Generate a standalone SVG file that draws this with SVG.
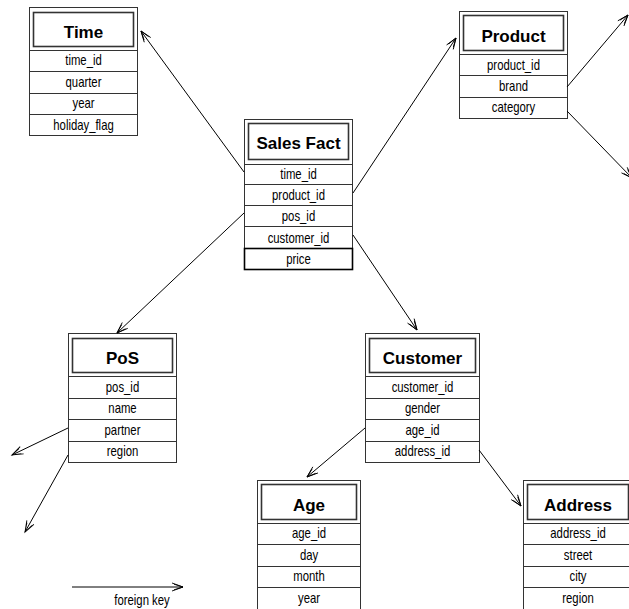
<svg xmlns="http://www.w3.org/2000/svg" width="629" height="609" viewBox="0 0 629 609">
  <style>
    .box { fill: #fff; stroke: #333; stroke-width: 1; }
    .ttl { fill: none; stroke: #333; stroke-width: 1.6; }
    .sep { stroke: #333; stroke-width: 1; }
    .key { fill: none; stroke: #000; stroke-width: 1.6; }
    .title { font-family: "Liberation Sans", Arial, sans-serif; font-size: 17px; font-weight: bold; text-anchor: middle; fill: #000; }
    .attr { font-family: "Liberation Sans", Arial, sans-serif; font-size: 14px; text-anchor: middle; fill: #000; }
    .fk { stroke: #000; stroke-width: 1; fill: none; marker-end: url(#arrow); }
  </style>
  <defs>
    <marker id="arrow" markerUnits="userSpaceOnUse" markerWidth="14" markerHeight="10" refX="12" refY="5" orient="auto">
      <path d="M1,1 L12,5 L1,9 M3,2.2 L12,5 L3,7.8" fill="none" stroke="#000" stroke-width="0.9"/>
    </marker>
  </defs>
  <rect width="629" height="609" fill="#fff"/>

  <!-- Time dimension -->
  <g id="time">
    <rect class="box" x="29.5" y="7.5" width="108" height="128"/>
    <rect class="ttl" x="33.5" y="12.5" width="100" height="34"/>
    <text class="title" x="83.5" y="38">Time</text>
    <path class="sep" d="M29.5,50.5 H137.5 M29.5,71.5 H137.5 M29.5,93.5 H137.5 M29.5,114.5 H137.5"/>
    <text class="attr" transform="translate(83.5,65) scale(0.81,1)">time_id</text>
    <text class="attr" transform="translate(83.5,86.5) scale(0.81,1)">quarter</text>
    <text class="attr" transform="translate(83.5,108) scale(0.81,1)">year</text>
    <text class="attr" transform="translate(83.5,129.5) scale(0.81,1)">holiday_flag</text>
  </g>

  <!-- Sales Fact table -->
  <g id="sales-fact">
    <rect class="box" x="244.5" y="119.5" width="108" height="150"/>
    <rect class="ttl" x="248.5" y="123.5" width="100" height="36"/>
    <text class="title" x="298.5" y="149">Sales Fact</text>
    <path class="sep" d="M244.5,164.5 H352.5 M244.5,184.5 H352.5 M244.5,205.5 H352.5 M244.5,226.5 H352.5"/>
    <text class="attr" transform="translate(298.5,179) scale(0.81,1)">time_id</text>
    <text class="attr" transform="translate(298.5,200) scale(0.81,1)">product_id</text>
    <text class="attr" transform="translate(298.5,221) scale(0.81,1)">pos_id</text>
    <text class="attr" transform="translate(298.5,242.5) scale(0.81,1)">customer_id</text>
    <rect class="key" x="244.5" y="248.5" width="108" height="21"/>
    <text class="attr" transform="translate(298.5,264) scale(0.81,1)">price</text>
  </g>

  <!-- Product dimension -->
  <g id="product">
    <rect class="box" x="459.5" y="11.5" width="108" height="107"/>
    <rect class="ttl" x="463.5" y="15.5" width="100" height="35"/>
    <text class="title" x="513.5" y="42">Product</text>
    <path class="sep" d="M459.5,54.5 H567.5 M459.5,75.5 H567.5 M459.5,97.5 H567.5"/>
    <text class="attr" transform="translate(513.5,69.5) scale(0.81,1)">product_id</text>
    <text class="attr" transform="translate(513.5,90.5) scale(0.81,1)">brand</text>
    <text class="attr" transform="translate(513.5,112) scale(0.81,1)">category</text>
  </g>

  <!-- PoS dimension -->
  <g id="pos">
    <rect class="box" x="68.5" y="333.5" width="108" height="129"/>
    <rect class="ttl" x="72.5" y="338.5" width="100" height="34"/>
    <text class="title" x="122.5" y="364">PoS</text>
    <path class="sep" d="M68.5,376.5 H176.5 M68.5,398.5 H176.5 M68.5,419.5 H176.5 M68.5,441.5 H176.5"/>
    <text class="attr" transform="translate(122.5,391.5) scale(0.81,1)">pos_id</text>
    <text class="attr" transform="translate(122.5,413) scale(0.81,1)">name</text>
    <text class="attr" transform="translate(122.5,434.5) scale(0.81,1)">partner</text>
    <text class="attr" transform="translate(122.5,456) scale(0.81,1)">region</text>
  </g>

  <!-- Customer dimension -->
  <g id="customer">
    <rect class="box" x="365.5" y="333.5" width="114" height="129"/>
    <rect class="ttl" x="369.5" y="338.5" width="106" height="34"/>
    <text class="title" x="422.5" y="364">Customer</text>
    <path class="sep" d="M365.5,376.5 H479.5 M365.5,398.5 H479.5 M365.5,419.5 H479.5 M365.5,441.5 H479.5"/>
    <text class="attr" transform="translate(422.5,391.5) scale(0.81,1)">customer_id</text>
    <text class="attr" transform="translate(422.5,413) scale(0.81,1)">gender</text>
    <text class="attr" transform="translate(422.5,434.5) scale(0.81,1)">age_id</text>
    <text class="attr" transform="translate(422.5,456) scale(0.81,1)">address_id</text>
  </g>

  <!-- Age dimension -->
  <g id="age">
    <rect class="box" x="257.5" y="480.5" width="103" height="131"/>
    <rect class="ttl" x="261.5" y="484.5" width="95" height="35"/>
    <text class="title" x="309" y="511">Age</text>
    <path class="sep" d="M257.5,523.5 H360.5 M257.5,544.5 H360.5 M257.5,566.5 H360.5 M257.5,587.5 H360.5"/>
    <text class="attr" transform="translate(309,538) scale(0.81,1)">age_id</text>
    <text class="attr" transform="translate(309,559.5) scale(0.81,1)">day</text>
    <text class="attr" transform="translate(309,581) scale(0.81,1)">month</text>
    <text class="attr" transform="translate(309,602.5) scale(0.81,1)">year</text>
  </g>

  <!-- Address dimension -->
  <g id="address">
    <rect class="box" x="523.5" y="480.5" width="109" height="131"/>
    <rect class="ttl" x="527.5" y="484.5" width="101" height="35"/>
    <text class="title" x="578" y="511">Address</text>
    <path class="sep" d="M523.5,523.5 H632.5 M523.5,544.5 H632.5 M523.5,566.5 H632.5 M523.5,587.5 H632.5"/>
    <text class="attr" transform="translate(578,538) scale(0.81,1)">address_id</text>
    <text class="attr" transform="translate(578,559.5) scale(0.81,1)">street</text>
    <text class="attr" transform="translate(578,581) scale(0.81,1)">city</text>
    <text class="attr" transform="translate(578,602.5) scale(0.81,1)">region</text>
  </g>

  <!-- foreign key references -->
  <g id="connectors">
    <line class="fk" x1="244" y1="172" x2="141" y2="31"/>
    <line class="fk" x1="353" y1="193" x2="456" y2="38"/>
    <line class="fk" x1="244" y1="213" x2="117" y2="333"/>
    <line class="fk" x1="353" y1="235" x2="417" y2="330"/>
    <line class="fk" x1="567" y1="87" x2="628" y2="15"/>
    <line class="fk" x1="567" y1="111" x2="632" y2="178"/>
    <line class="fk" x1="68" y1="428" x2="12" y2="455"/>
    <line class="fk" x1="68" y1="455" x2="25" y2="532"/>
    <line class="fk" x1="365" y1="428" x2="307" y2="477"/>
    <line class="fk" x1="479" y1="450" x2="521" y2="506"/>
  </g>

  <!-- legend -->
  <g id="legend">
    <line class="fk" x1="72" y1="587" x2="183" y2="587"/>
    <text class="attr" transform="translate(142,604.5) scale(0.81,1)">foreign key</text>
  </g>
</svg>
